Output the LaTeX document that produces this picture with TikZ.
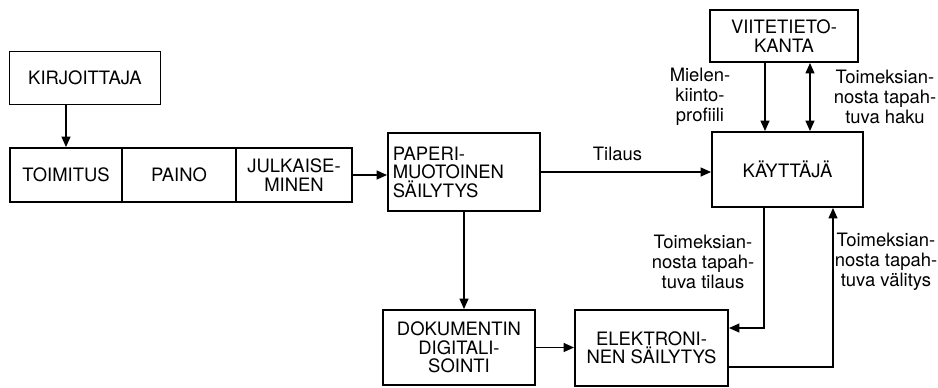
\documentclass[tikz,border=0pt]{standalone}
\usepackage{fontspec}
\setmainfont{TeX Gyre Heros}
\usetikzlibrary{arrows.meta}
\tikzset{
  flow box/.style={
    draw, line width=1pt, inner sep=2pt,
    align=center, font=\fontsize{10.5}{10.5}\selectfont
  },
  flow note/.style={
    inner sep=0pt, align=center,
    font=\fontsize{10.5}{11.5}\selectfont
  },
  flow arrow/.style={
    -{Triangle[length=6pt,width=5pt]}, line width=1.1pt
  },
  flow both/.style={
    {Triangle[length=6pt,width=5pt]}-{Triangle[length=6pt,width=5pt]}, line width=1.1pt
  }
}

\begin{document}
\begin{tikzpicture}[x=0.02cm, y=-0.02cm]
    % frame of the picture
    \useasboundingbox (0,0) rectangle (938,387);

    % production chain
    \node[flow box, minimum width=3.02cm, minimum height=1.06cm] (kirjoittaja) at (85,78) {KIRJOITTAJA};
    \node[flow box, minimum width=2.24cm, minimum height=1.08cm] (toimitus) at (66,175) {TOIMITUS};
    \node[flow box, minimum width=2.28cm, minimum height=1.08cm] (paino) at (179,175) {PAINO};
    \node[flow box, minimum width=2.32cm, minimum height=1.08cm] (julkaiseminen) at (294,175) {JULKAISE-\\MINEN};

    % storage and user
    \node[flow box, align=left, minimum width=3.04cm, minimum height=1.56cm, text width=2.85cm] (paperi) at (464,172) {PAPERI-\\MUOTOINEN\\SÄILYTYS};
    \node[flow box, minimum width=2.96cm, minimum height=1.04cm] (viite) at (784,36) {VIITETIETO-\\KANTA};
    \node[flow box, minimum width=3.02cm, minimum height=1.5cm] (kayttaja) at (787.5,169.5) {KÄYTTÄJÄ};
    \node[flow box, minimum width=3.04cm, minimum height=1.5cm] (digitointi) at (459,347.5) {DOKUMENTIN\\DIGITALI-\\SOINTI};
    \node[flow box, minimum width=3.06cm, minimum height=1.52cm] (elektroninen) at (651.5,348) {ELEKTRONI-\\NEN SÄILYTYS};

    % connectors
    \draw[flow arrow] (kirjoittaja.south -| toimitus.north) -- (toimitus.north);
    \draw[flow arrow] (julkaiseminen.east) -- (julkaiseminen.east -| paperi.west);
    \draw[flow arrow] (paperi.east) -- node[flow note, above=6pt, pos=0.45] (tilaus) {Tilaus} (paperi.east -| kayttaja.west);
    \draw[flow arrow] (paperi.south) -- (paperi.south |- digitointi.north);
    \draw[flow arrow] (digitointi.east) -- (digitointi.east -| elektroninen.west);
    \draw[flow arrow] ([xshift=-0.38cm]viite.south) -- ([xshift=-0.38cm]viite.south |- kayttaja.north);
    \draw[flow both] ([xshift=0.52cm]viite.south) -- ([xshift=0.52cm]viite.south |- kayttaja.north);
    \draw[flow arrow] ([xshift=-0.47cm]kayttaja.south) |- ([yshift=0.4cm]elektroninen.east);
    \draw[flow arrow] ([yshift=-0.38cm]elektroninen.east) -| ([xshift=0.91cm]kayttaja.south);

    % labels beside the connectors
    \node[flow note] (profiili) at (700,97) {Mielen-\\kiinto-\\profiili};
    \node[flow note] (haku) at (885,97) {Toimeksian-\\nosta tapah-\\tuva haku};
    \node[flow note] (tilausnote) at (703,262) {Toimeksian-\\nosta tapah-\\tuva tilaus};
    \node[flow note] (valitys) at (886,262) {Toimeksian-\\nosta tapah-\\tuva välitys};
\end{tikzpicture}
\end{document}
